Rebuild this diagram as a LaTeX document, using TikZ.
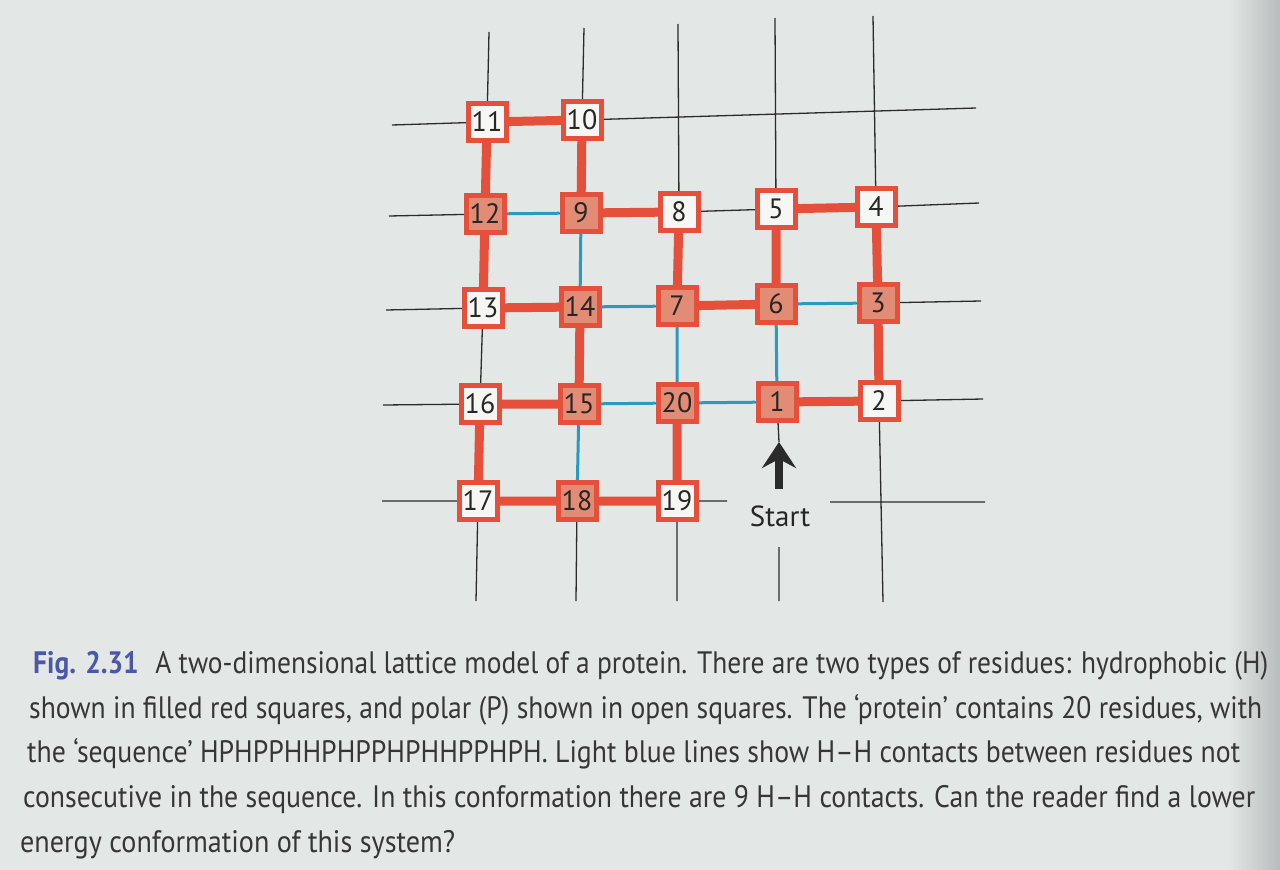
\documentclass[tikz,border=0pt]{standalone}
\usepackage{fontspec}
\setmainfont{PT Sans}
\usepackage{graphicx}
\usetikzlibrary{arrows.meta}
\pgfdeclarelayer{paper}
\pgfdeclarelayer{lines}
\pgfsetlayers{paper,lines,main}
\definecolor{bg}{HTML}{E3E8E6}
\definecolor{edge}{HTML}{B8BCBC}
\definecolor{bondred}{HTML}{E4503B}
\definecolor{hfill}{HTML}{E28C76}
\definecolor{pfill}{HTML}{F6F7F5}
\definecolor{contact}{HTML}{2A9AC0}
\definecolor{gridline}{HTML}{2B2B2B}
\definecolor{figblue}{HTML}{4B58A8}
\definecolor{captext}{HTML}{363636}
\tikzset{
  res/.style={draw=bondred, line width=5pt, minimum width=38pt, minimum height=37pt,
    inner sep=0pt, fill=pfill, text=black!85, font=\fontsize{28}{28}\selectfont},
  hres/.style={res, fill=hfill},
  bond/.style={draw=bondred, line width=9pt},
  hh/.style={draw=contact, line width=3pt},
  gridl/.style={draw=gridline, line width=1.3pt},
  capline/.style={anchor=base west, inner sep=0pt, text=captext,
    font=\fontsize{31}{31}\selectfont},
}
\begin{document}
\begin{tikzpicture}[x=1pt,y=-1pt]
\useasboundingbox (0,0) rectangle (1280,870);
\begin{pgfonlayer}{paper}
\fill[bg] (0,0) rectangle (1280,870);
\shade[left color=bg, right color=edge] (1228,0) rectangle (1280,870);
\end{pgfonlayer}

% residues
\node[res]  (n11) at (487,122) {11};
\node[res]  (n10) at (582,120) {10};
\node[hres] (n12) at (485,214) {12};
\node[hres] (n9)  at (581,213) {9};
\node[res]  (n8)  at (679,212) {8};
\node[res]  (n5)  at (776,209) {5};
\node[res]  (n4)  at (876,207) {4};
\node[res]  (n13) at (483,308) {13};
\node[hres] (n14) at (580,307) {14};
\node[hres] (n7)  at (677,306) {7};
\node[hres] (n6)  at (776,304) {6};
\node[hres] (n3)  at (878,303) {3};
\node[res]  (n16) at (480,404) {16};
\node[hres] (n15) at (579,404) {15};
\node[hres] (n20) at (677,403) {20};
\node[hres] (n1)  at (777,402) {1};
\node[res]  (n2)  at (879,401) {2};
\node[res]  (n17) at (478,501) {17};
\node[hres] (n18) at (577,501) {18};
\node[res]  (n19) at (677,501) {19};

% free ends of the lattice lines
\coordinate (h1l) at (392,125); \coordinate (h1r) at (976,108);
\coordinate (h2l) at (389,216); \coordinate (h2r) at (979,203);
\coordinate (h3l) at (386,310); \coordinate (h3r) at (981,301);
\coordinate (h4l) at (383,405); \coordinate (h4r) at (983,399);
\coordinate (h5l) at (382,501); \coordinate (h5a) at (727,501);
\coordinate (h5b) at (830,502); \coordinate (h5r) at (985,502);
\coordinate (v1t) at (489,32);  \coordinate (v1b) at (476,601);
\coordinate (v2t) at (584,28);  \coordinate (v2b) at (576,601);
\coordinate (v3t) at (678,24);  \coordinate (v3b) at (677,601);
\coordinate (v4t) at (775,18);  \coordinate (v4b) at (779,601);
\coordinate (v4c) at (779,547);
\coordinate (v5t) at (873,16);  \coordinate (v5b) at (883,602);
\coordinate (tip) at (779,442); \coordinate (tail) at (779,489);

\begin{pgfonlayer}{lines}
% lattice (behind)
\path[gridl]
  (h1l) -- (n11.center) -- (n10.center) -- (h1r)
  (h2l) -- (n12.center) -- (n9.center) -- (n8.center) -- (n5.center) -- (n4.center) -- (h2r)
  (h3l) -- (n13.center) -- (n14.center) -- (n7.center) -- (n6.center) -- (n3.center) -- (h3r)
  (h4l) -- (n16.center) -- (n15.center) -- (n20.center) -- (n1.center) -- (n2.center) -- (h4r)
  (h5l) -- (n17.center) -- (n18.center) -- (n19.center) -- (h5a)
  (h5b) -- (h5r)
  (v1t) -- (n11.center) -- (n12.center) -- (n13.center) -- (n16.center) -- (n17.center) -- (v1b)
  (v2t) -- (n10.center) -- (n9.center) -- (n14.center) -- (n15.center) -- (n18.center) -- (v2b)
  (v3t) -- (n8.center) -- (n7.center) -- (n20.center) -- (n19.center) -- (v3b)
  (v4t) -- (n5.center) -- (n6.center) -- (n1.center) -- (tip)
  (v4c) -- (v4b)
  (v5t) -- (n4.center) -- (n3.center) -- (n2.center) -- (v5b);
% H-H contacts
\path[hh] (n12) -- (n9) (n9) -- (n14) (n14) -- (n7) (n6) -- (n3)
  (n7) -- (n20) (n6) -- (n1) (n15) -- (n20) (n20) -- (n1) (n15) -- (n18);
% chain
\path[bond] (n1.center) -- (n2.center) -- (n3.center) -- (n4.center) -- (n5.center)
  -- (n6.center) -- (n7.center) -- (n8.center) -- (n9.center) -- (n10.center)
  -- (n11.center) -- (n12.center) -- (n13.center) -- (n14.center) -- (n15.center)
  -- (n16.center) -- (n17.center) -- (n18.center) -- (n19.center) -- (n20.center);
\end{pgfonlayer}

% start arrow
\draw[draw=gridline, line width=8pt, -{Stealth[length=26pt, width=34pt, inset=9pt]}]
  (tail) -- (tip);
\node[inner sep=0pt, anchor=base, text=black!85, font=\fontsize{29}{29}\selectfont]
  (start) at (780,526) {Start};

% caption
\node[capline] (c1) at (33,673) {\resizebox{1235pt}{\height}{%
  \textcolor{figblue}{\textbf{Fig. 2.31}}\hspace{0.6em}A two-dimensional lattice model of a protein. There are two types of residues: hydrophobic (H)}};
\node[capline] (c2) at (29,718) {\resizebox{1233pt}{\height}{%
  shown in filled red squares, and polar (P) shown in open squares. The ‘protein’ contains 20 residues, with}};
\node[capline] (c3) at (27,762) {\resizebox{1213pt}{\height}{%
  the ‘sequence’ HPHPPHHPHPPHPHHPPHPH. Light blue lines show H–H contacts between residues not}};
\node[capline] (c4) at (23,807) {\resizebox{1232pt}{\height}{%
  consecutive in the sequence. In this conformation there are 9 H–H contacts. Can the reader find a lower}};
\node[capline] (c5) at (20,852) {\resizebox{435pt}{\height}{%
  energy conformation of this system?}};
\end{tikzpicture}
\end{document}
